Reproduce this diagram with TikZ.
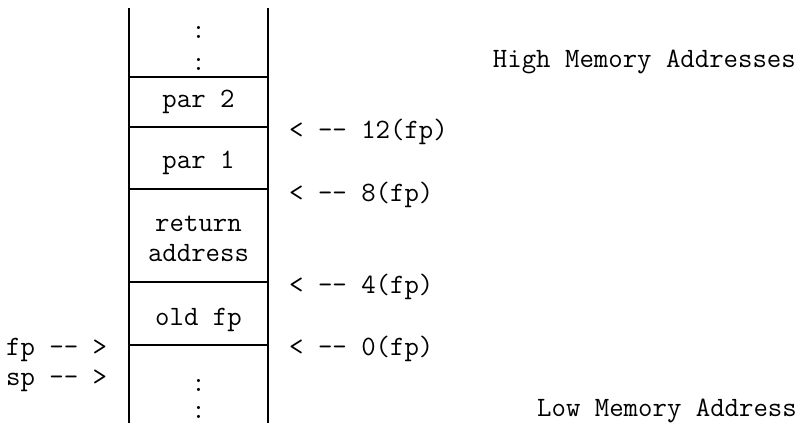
\documentclass[tikz,border=0pt]{standalone}
\usepackage{fontspec}
\setmonofont{Latin Modern Mono}
\begin{document}
\begin{tikzpicture}[x=1pt,y=-1pt,
  every node/.style={font=\ttfamily\fontsize{28}{33}\selectfont, inner sep=0pt},
  frame/.style={line width=1.7pt, black},
  cell/.style={anchor=base},
  dots/.style={anchor=center, align=center},
  lbl/.style={anchor=base west},
  side/.style={anchor=base east}]
\useasboundingbox (0,0) rectangle (805,423);
% stack frame
\draw[frame] (129,8) -- (129,423);
\draw[frame] (268,8) -- (268,423);
\foreach \yy in {77,127,189,282,345} \draw[frame] (129,\yy) -- (268,\yy);
% cell contents
\node[dots, font=\ttfamily\fontsize{28}{31.5}\selectfont] (dtop) at (198.5,48.25) {:\\:};
\node[cell] (p2) at (198.5,107) {par 2};
\node[cell] (p1) at (198.5,168) {par 1};
\node[cell] (ra1) at (198.5,231) {return};
\node[cell] (ra2) at (198.5,261.5) {address};
\node[cell] (ofp) at (198.5,325) {old fp};
\node[dots, font=\ttfamily\fontsize{28}{26.5}\selectfont] (dbot) at (198.5,399) {:\\:};
% offsets
\node[lbl] (o12) at (289,138) {< -- 12(fp)};
\node[lbl] (o8) at (289,201) {< -- 8(fp)};
\node[lbl] (o4) at (289,293) {< -- 4(fp)};
\node[lbl] (o0) at (289,355) {< -- 0(fp)};
% pointers
\node[lbl] (fp) at (6,355) {fp -- >};
\node[lbl] (sp) at (6,385) {sp -- >};
% side labels
\node[side] (hi) at (796,67) {High Memory Addresses};
\node[side] (lo) at (797,416) {Low Memory Address};
\end{tikzpicture}
\end{document}
